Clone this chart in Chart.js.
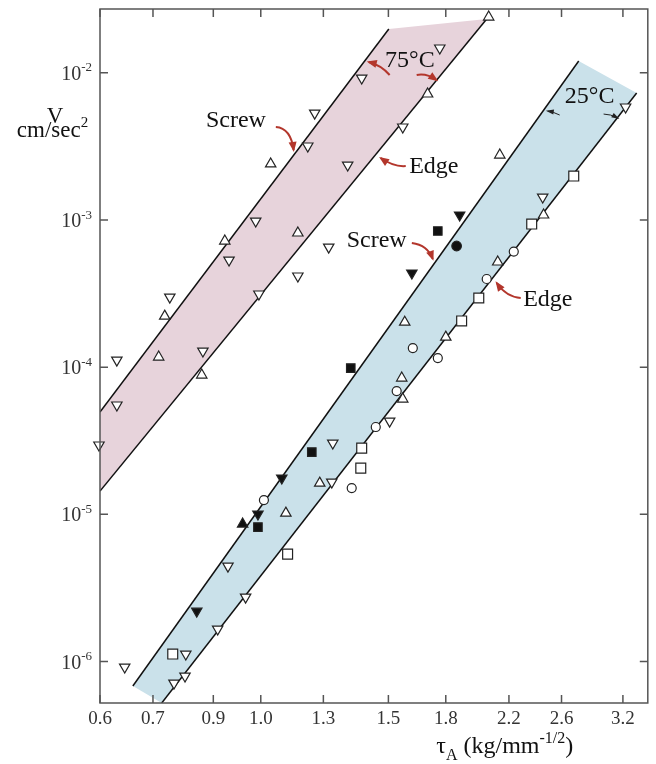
<!DOCTYPE html>
<html>
<head>
<meta charset="utf-8">
<script src="https://cdn.jsdelivr.net/npm/chart.js@4.4.1/dist/chart.umd.min.js"></script>
<style>
  html, body { margin: 0; padding: 0; background: #fff; }
  #wrap { width: 656px; height: 764px; }
</style>
</head>
<body>
<div id="wrap"><canvas id="velocityChart" width="656" height="764"></canvas></div>
<script>
/* tau axis: where each printed tick sits, and what it reads */
const xTickAt = [0.6, 0.71, 0.86, 1.0, 1.22, 1.5, 1.8, 2.2, 2.6, 3.16];
const xTickLabels = ['0.6', '0.7', '0.9', '1.0', '1.3', '1.5', '1.8', '2.2', '2.6', '3.2'];
const yTickAt = [1e-6, 1e-5, 1e-4, 1e-3, 1e-2];
const yTickExp = ['-6', '-5', '-4', '-3', '-2'];

/* 75 C measurements [tau, V] */
const t75Down = [[1.766, 0.01472], [1.378, 0.0092], [1.187, 0.00532], [1.570, 0.00428], [1.161, 0.00318],
  [1.318, 0.00236], [0.984, 0.000983], [1.241, 0.000654], [0.904, 0.000534], [1.125, 0.000416],
  [0.994, 0.000314], [0.749, 0.000299], [0.832, 0.0001286], [0.633, 0.0001117], [0.633, 5.53e-5], [0.598, 2.96e-5]];
const t75Up = [[2.063, 0.0239], [1.699, 0.00717], [1.032, 0.0024], [1.125, 0.000815], [0.892, 0.000719],
  [0.737, 0.000222], [0.723, 0.0001171], [0.829, 8.84e-5]];

/* 25 C measurements [tau, V] */
const t25Down = [[3.187, 0.00585], [2.449, 0.001431], [1.506, 4.3e-5], [1.257, 3.05e-5], [1.253, 1.657e-5],
  [0.901, 4.45e-6], [0.953, 2.74e-6], [0.872, 1.663e-6], [0.788, 1.125e-6], [0.649, 9.18e-7],
  [0.786, 7.97e-7], [0.759, 7.14e-7]];
const t25Up = [[2.137, 0.00276], [2.456, 0.00108], [2.123, 0.000518], [1.580, 0.000202], [1.800, 0.00016],
  [1.565, 8.43e-5], [1.570, 6.07e-5], [1.206, 1.631e-5], [1.083, 1.02e-5]];
const t25Square = [[2.703, 0.001987], [2.365, 0.000938], [1.999, 0.000295], [1.893, 0.000206],
  [1.378, 2.82e-5], [1.374, 2.06e-5], [1.089, 5.37e-6], [0.756, 1.125e-6]];
const t25Circle = [[2.234, 0.00061], [2.050, 0.000397], [1.621, 0.0001348], [1.755, 0.0001153],
  [1.540, 6.88e-5], [1.441, 3.92e-5], [1.335, 1.509e-5], [1.010, 1.25e-5]];
const t25DownSolid = [[1.881, 0.00108], [1.616, 0.000436], [1.069, 1.764e-5], [0.991, 1.005e-5], [0.816, 2.2e-6]];
const t25UpSolid = [[0.944, 8.59e-6]];
const t25SquareSolid = [[1.755, 0.000841], [1.331, 9.86e-5], [1.176, 2.65e-5], [0.991, 8.2e-6]];
const t25CircleSolid = [[1.863, 0.000665]];

/* bounding lines, end points [tau, V] */
const screw75 = [[0.600, 4.95e-5], [1.502, 0.01981]];
const edge75 = [[0.600, 1.439e-5], [2.050, 0.02316]];
const screw25 = [[0.666, 6.82e-7], [2.746, 0.01201]];
const edge25 = [[0.730, 5.23e-7], [3.301, 0.00728]];

const RED = '#b3362c';
const SERIF = '"Liberation Serif", "Times New Roman", serif';

// text notes and arrows, placed in data units
const notes = [
  { text: 'Screw', at: [0.924, 0.00428] },
  { text: 'Edge', at: [1.733, 0.002083] },
  { text: '75°C', at: [1.606, 0.01093] },
  { text: '25°C', at: [2.843, 0.00622] },
  { text: 'Screw', at: [1.445, 0.000654] },
  { text: 'Edge', at: [2.489, 0.00026] }
];
const arrows = [
  { path: [[1.049, 0.00428], [1.100, 0.00421], [1.110, 0.002985]], color: RED, w: 2 },
  { path: [[1.585, 0.002324], [1.525, 0.002288], [1.464, 0.002633]], color: RED, w: 2 },
  { path: [[1.506, 0.00965], [1.464, 0.01128], [1.409, 0.01182]], color: RED, w: 2 },
  { path: [[1.641, 0.00965], [1.694, 0.00995], [1.748, 0.00892]], color: RED, w: 2 },
  { path: [[2.585, 0.00516], [2.536, 0.00541], [2.489, 0.00549]], color: '#222', w: 1 },
  { path: [[2.972, 0.00524], [3.039, 0.00524], [3.108, 0.00492]], color: '#222', w: 1 },
  { path: [[1.616, 0.000697], [1.699, 0.000675], [1.727, 0.000543]], color: RED, w: 2 },
  { path: [[2.284, 0.000295], [2.184, 0.000299], [2.116, 0.000373]], color: RED, w: 2 }
];

const pts = arr => arr.map(([x, y]) => ({ x, y }));

function marker(data, style, o) {
  return Object.assign({
    data: pts(data), pointStyle: style, pointRadius: 6, pointRotation: 0,
    pointBorderWidth: 1.2, borderColor: '#222', pointBorderColor: '#222',
    backgroundColor: '#fff', pointBackgroundColor: '#fff', showLine: false, order: 1, clip: 12
  }, o || {});
}

function boundLine(data) {
  return { data: pts(data), showLine: true, borderColor: '#111', borderWidth: 1.5,
    pointRadius: 0, fill: false, tension: 0, order: 5 };
}

function band(a, b, color) {
  return { data: pts(a.concat(b.slice().reverse())), showLine: true, fill: 'shape',
    backgroundColor: color, borderColor: 'transparent', borderWidth: 0, pointRadius: 0, tension: 0, order: 10 };
}

// draws text pieces with sub/superscripts; parts = [text, 'sup'|'sub'|'']
function richText(ctx, parts, x, y, size, align) {
  const fontOf = p => (p[1] ? Math.round(size * 0.66) : size) + 'px ' + SERIF;
  const widths = parts.map(p => { ctx.font = fontOf(p); return ctx.measureText(p[0]).width; });
  const total = widths.reduce((s, w) => s + w, 0);
  let cx = align === 'center' ? x - total / 2 : align === 'right' ? x - total : x;
  ctx.textAlign = 'left';
  ctx.textBaseline = 'alphabetic';
  parts.forEach((p, i) => {
    ctx.font = fontOf(p);
    const dy = p[1] === 'sup' ? -size * 0.42 : p[1] === 'sub' ? size * 0.28 : 0;
    ctx.fillText(p[0], cx, y + dy);
    cx += widths[i];
  });
}

const decor = {
  id: 'decor',
  afterDraw(chart) {
    const { ctx, chartArea: a, scales: { x, y } } = chart;
    const px = p => [x.getPixelForValue(p[0]), y.getPixelForValue(p[1])];
    ctx.save();

    // frame with inward ticks on all sides
    ctx.strokeStyle = '#555';
    ctx.lineWidth = 1.5;
    ctx.strokeRect(a.left, a.top, a.right - a.left, a.bottom - a.top);
    ctx.beginPath();
    xTickAt.forEach(v => {
      const X = x.getPixelForValue(v);
      ctx.moveTo(X, a.bottom); ctx.lineTo(X, a.bottom - 8);
      ctx.moveTo(X, a.top); ctx.lineTo(X, a.top + 8);
    });
    yTickAt.forEach(v => {
      const Y = y.getPixelForValue(v);
      ctx.moveTo(a.left, Y); ctx.lineTo(a.left + 8, Y);
      ctx.moveTo(a.right, Y); ctx.lineTo(a.right - 8, Y);
    });
    ctx.stroke();

    // y tick labels 10^n
    ctx.fillStyle = '#333';
    yTickAt.forEach((v, i) => {
      const Y = y.getPixelForValue(v);
      richText(ctx, [['10', ''], [yTickExp[i], 'sup']], a.left - 8, Y + 7, 20, 'right');
    });

    // notes and axis titles
    ctx.fillStyle = '#111';
    notes.forEach(n => {
      const [X, Y] = px(n.at);
      richText(ctx, [[n.text, '']], X, Y, 24, 'center');
    });
    let p = px([0.520, 0.00455]);
    richText(ctx, [['V', '']], p[0], p[1], 23, 'center');
    p = px([0.516, 0.003658]);
    richText(ctx, [['cm/sec', ''], ['2', 'sup']], p[0], p[1], 23, 'center');
    p = px([2.171, 2.39e-7]);
    richText(ctx, [['τ', ''], ['A', 'sub'], [' (kg/mm', ''], ['-1/2', 'sup'], [')', '']], p[0], p[1], 24, 'center');

    // curved arrows
    arrows.forEach(ar => {
      const [t, c, h] = ar.path.map(px);
      ctx.strokeStyle = ar.color;
      ctx.fillStyle = ar.color;
      ctx.lineWidth = ar.w;
      ctx.beginPath();
      ctx.moveTo(t[0], t[1]);
      ctx.quadraticCurveTo(c[0], c[1], h[0], h[1]);
      ctx.stroke();
      const ang = Math.atan2(h[1] - c[1], h[0] - c[0]);
      const len = ar.w > 1 ? 8 : 6, half = ar.w > 1 ? 4 : 2.5;
      ctx.beginPath();
      ctx.moveTo(h[0] + Math.cos(ang) * 2, h[1] + Math.sin(ang) * 2);
      ctx.lineTo(h[0] - Math.cos(ang) * len - Math.sin(ang) * half, h[1] - Math.sin(ang) * len + Math.cos(ang) * half);
      ctx.lineTo(h[0] - Math.cos(ang) * len + Math.sin(ang) * half, h[1] - Math.sin(ang) * len - Math.cos(ang) * half);
      ctx.closePath();
      ctx.fill();
    });
    ctx.restore();
  }
};

new Chart(document.getElementById('velocityChart'), {
  type: 'scatter',
  data: {
    datasets: [
      band(screw75, edge75, '#e7d3db'),
      band(screw25, edge25, '#cae1ea'),
      boundLine(screw75), boundLine(edge75), boundLine(screw25), boundLine(edge25),
      marker(t75Down, 'triangle', { pointRotation: 180 }),
      marker(t75Up, 'triangle'),
      marker(t25Down, 'triangle', { pointRotation: 180 }),
      marker(t25Up, 'triangle'),
      marker(t25Square, 'rect', { pointRadius: 7 }),
      marker(t25Circle, 'circle', { pointRadius: 4.5 }),
      marker(t25DownSolid, 'triangle', { pointRotation: 180, pointBackgroundColor: '#111', backgroundColor: '#111' }),
      marker(t25UpSolid, 'triangle', { pointBackgroundColor: '#111', backgroundColor: '#111' }),
      marker(t25SquareSolid, 'rect', { pointRadius: 6, pointBackgroundColor: '#111', backgroundColor: '#111' }),
      marker(t25CircleSolid, 'circle', { pointRadius: 4.8, pointBackgroundColor: '#111', backgroundColor: '#111' })
    ]
  },
  options: {
    responsive: false,
    animation: false,
    events: [],
    layout: { padding: { top: 9, right: 8, left: 0, bottom: 0 } },
    plugins: { legend: { display: false }, tooltip: { enabled: false } },
    scales: {
      x: {
        type: 'logarithmic', min: 0.6, max: 3.42,
        afterBuildTicks: s => { s.ticks = xTickAt.map(v => ({ value: v })); },
        afterFit: s => { s.height = 61; },
        grid: { display: false, drawTicks: false },
        border: { display: false },
        ticks: {
          autoSkip: false, maxRotation: 0, padding: 5, color: '#333',
          font: { family: SERIF, size: 19 },
          callback: (v, i) => xTickLabels[i]
        }
      },
      y: {
        type: 'logarithmic', min: 5.23e-7, max: 2.71e-2,
        afterBuildTicks: s => { s.ticks = yTickAt.map(v => ({ value: v })); },
        afterFit: s => { s.width = 100; },
        grid: { display: false, drawTicks: false },
        border: { display: false },
        ticks: { display: false }
      }
    }
  },
  plugins: [decor]
});
</script>
</body>
</html>
